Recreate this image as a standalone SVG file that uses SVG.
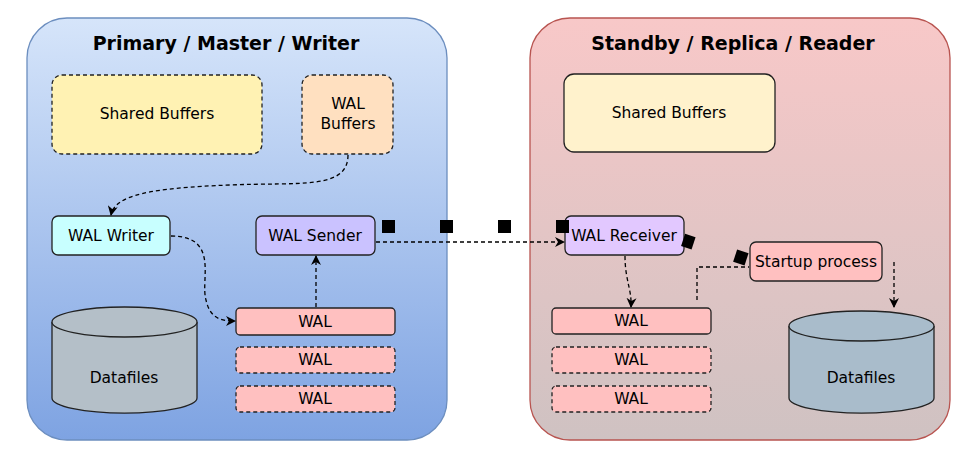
<svg xmlns="http://www.w3.org/2000/svg" width="970" height="456" viewBox="0 0 970 456">
<defs>
<linearGradient id="gb" x1="0" y1="0" x2="0" y2="1"><stop offset="0" stop-color="#d6e5fa"/><stop offset="1" stop-color="#7ea3e2"/></linearGradient>
<linearGradient id="gr" x1="0" y1="0" x2="0" y2="1"><stop offset="0" stop-color="#f8c8c8"/><stop offset="1" stop-color="#cfc2c2"/></linearGradient>
<marker id="ar" markerWidth="10" markerHeight="10" refX="9" refY="5" orient="auto" markerUnits="userSpaceOnUse"><path d="M0,0 L10,5 L0,10 L3,5 Z" fill="#000"/></marker>
<style>
text{font-family:"DejaVu Sans","Noto Sans",sans-serif;font-size:15.5px;text-anchor:middle;dominant-baseline:central;fill:#000}
.t{font-weight:bold;font-size:19px}
.n{stroke:#222;stroke-width:1.3}
.d{stroke-dasharray:4 3}
.c{fill:none;stroke:#000;stroke-width:1.3;stroke-dasharray:4 3}
</style>
</defs>
<g id="primary"><rect x="27" y="18" width="420" height="422" rx="40" fill="url(#gb)" stroke="#6c8ebf" stroke-width="1.3"/><text class="t" x="226" y="43">Primary / Master / Writer</text></g>
<g id="standby"><rect x="530" y="18" width="420" height="422" rx="40" fill="url(#gr)" stroke="#b85450" stroke-width="1.3"/><text class="t" x="733" y="43">Standby / Replica / Reader</text></g>
<g id="p-shared"><rect class="n d" x="52" y="75" width="210" height="79" rx="10" fill="#fff2b3"/><text x="157" y="114">Shared Buffers</text></g>
<g id="p-walbuf"><rect class="n d" x="302" y="75" width="91" height="79" rx="10" fill="#ffe0c0"/><text x="348" y="104">WAL</text><text x="348" y="124">Buffers</text></g>
<g id="walwriter"><rect class="n" x="52" y="216" width="118" height="39" rx="6" fill="#c8ffff"/><text x="111" y="236">WAL Writer</text></g>
<g id="walsender"><rect class="n" x="256" y="216" width="119" height="39" rx="6" fill="#cac2ff"/><text x="315" y="236">WAL Sender</text></g>
<g id="p-wal1"><rect class="n" x="236" y="308" width="159" height="27" rx="4" fill="#ffc0c0"/><text x="315" y="322">WAL</text></g>
<g id="p-wal2"><rect class="n d" x="236" y="347" width="159" height="26" rx="4" fill="#ffc0c0"/><text x="315" y="360">WAL</text></g>
<g id="p-wal3"><rect class="n d" x="236" y="386" width="159" height="26" rx="4" fill="#ffc0c0"/><text x="315" y="399">WAL</text></g>
<g id="p-data"><path class="n" d="M52,322 L52,398 A72,15 0 0 0 197,398 L197,322" fill="#b4bfc8" stroke="#333"/><ellipse class="n" cx="124.5" cy="322" rx="72.5" ry="15" fill="#b4bfc8" stroke="#333"/><text x="124" y="378">Datafiles</text></g>
<g id="s-shared"><rect class="n" x="564" y="74" width="211" height="78" rx="10" fill="#fff2cc"/><text x="669" y="113">Shared Buffers</text></g>
<g id="walreceiver"><rect class="n" x="565" y="216" width="119" height="39" rx="6" fill="#e2c8ff"/><text x="624" y="236">WAL Receiver</text></g>
<g id="startup"><rect class="n" x="750" y="242" width="132" height="39" rx="6" fill="#ffc0c0"/><text x="816" y="262">Startup process</text></g>
<g id="s-wal1"><rect class="n" x="552" y="308" width="159" height="26" rx="4" fill="#ffc0c0"/><text x="631" y="321">WAL</text></g>
<g id="s-wal2"><rect class="n d" x="552" y="347" width="159" height="26" rx="4" fill="#ffc0c0"/><text x="631" y="360">WAL</text></g>
<g id="s-wal3"><rect class="n d" x="552" y="386" width="159" height="26" rx="4" fill="#ffc0c0"/><text x="631" y="399">WAL</text></g>
<g id="s-data"><path class="n" d="M789,326 L789,398 A72,15 0 0 0 934,398 L934,326" fill="#a9bccb" stroke="#333"/><ellipse class="n" cx="861.5" cy="326" rx="72.5" ry="15" fill="#a9bccb" stroke="#333"/><text x="861" y="378">Datafiles</text></g>
<g id="connectors">
<path class="c" d="M348,155 C348,190 300,182 230,185 C150,188 115,195 111,215" marker-end="url(#ar)"/>
<path class="c" d="M171,236 C220,236 200,280 206,300 C210,318 220,321 235,321" marker-end="url(#ar)"/>
<path class="c" d="M316,307 L316,256" marker-end="url(#ar)"/>
<path class="c" d="M376,242 L564,242" marker-end="url(#ar)"/>
<path class="c" d="M625,256 C625,280 632,290 631,307" marker-end="url(#ar)"/>
<path class="c" d="M697,300 L697,267 L749,267" stroke-dasharray="9 6"/>
<path class="c" d="M894,262 L894,307" stroke-dasharray="9 5" marker-end="url(#ar)"/>
</g>
<g id="packets" fill="#000">
<rect x="382" y="220" width="13" height="13"/><rect x="440" y="220" width="13" height="13"/><rect x="498" y="220" width="13" height="13"/><rect x="556" y="220" width="13" height="13"/>
<rect x="683" y="235" width="11" height="13" transform="rotate(18 688 241)"/><rect x="735" y="251" width="12" height="13" transform="rotate(18 741 257)"/>
</g>
</svg>
